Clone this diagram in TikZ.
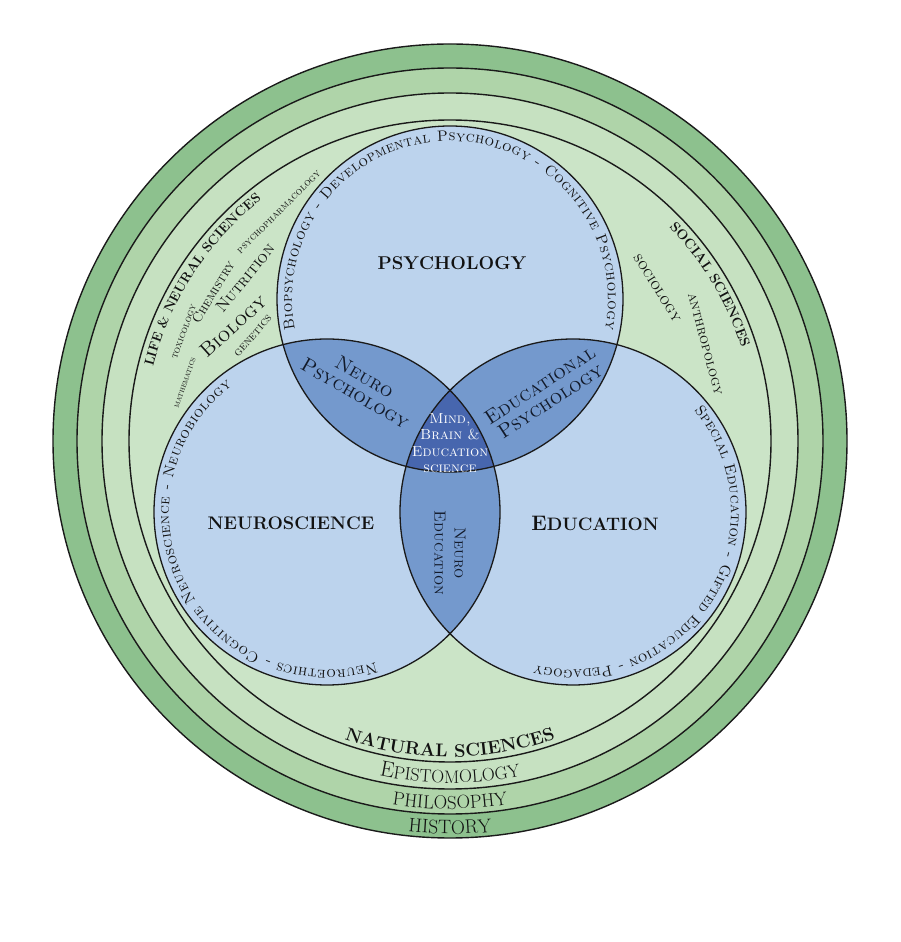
\documentclass[tikz,border=0pt]{standalone}
\usetikzlibrary{decorations.text,calc}
\newcommand\myfs[1]{\fontsize{#1}{#1}\selectfont}
\newcommand\myfsl[2]{\fontsize{#1}{#2}\selectfont}
\definecolor{ringA}{HTML}{8DC18E}
\definecolor{ringB}{HTML}{AFD4A9}
\definecolor{ringC}{HTML}{C6E1C1}
\definecolor{ringD}{HTML}{CBE4C7}
\definecolor{blueL}{HTML}{BCD3ED}
\definecolor{blueM}{HTML}{7499CD}
\definecolor{blueD}{HTML}{4766AE}
\definecolor{lineC}{HTML}{1A1A1A}
\definecolor{txt}{HTML}{121212}
\definecolor{navy}{HTML}{121A2A}
\begin{document}
\begin{tikzpicture}[x=1pt,y=1pt,
  ring/.style={draw=lineC, line width=1.4pt},
  venn/.style={draw=lineC, line width=1.3pt},
  lbl/.style={text=txt, inner sep=0pt, align=center},
  ovl/.style={text=navy, inner sep=0pt, align=center},
  arctext/.style={decorate, decoration={text along path, text color=txt, text align={fit to path}, text={#1}}},
  bandtext/.style={decorate, decoration={text along path, text color=txt, text align=center, text={#1}}}
]
\useasboundingbox (0,0) rectangle (900,942);
\fill[white] (0,0) rectangle (900,942);
\coordinate (O) at (450,501);
\coordinate (P) at (450,643);
\coordinate (N) at (327,430);
\coordinate (E) at (573,430);

% rings
\fill[ringA] (O) circle[radius=397pt];
\fill[ringB] (O) circle[radius=373pt];
\fill[ringC] (O) circle[radius=348pt];
\fill[ringD] (O) circle[radius=321pt];
\draw[ring] (O) circle[radius=397pt];
\draw[ring] (O) circle[radius=373pt];
\draw[ring] (O) circle[radius=348pt];
\draw[ring] (O) circle[radius=321pt];

% venn
\fill[blueL] (P) circle[radius=173pt];
\fill[blueL] (N) circle[radius=173pt];
\fill[blueL] (E) circle[radius=173pt];
\begin{scope}
  \clip (P) circle[radius=173pt];
  \fill[blueM] (N) circle[radius=173pt];
  \fill[blueM] (E) circle[radius=173pt];
\end{scope}
\begin{scope}
  \clip (N) circle[radius=173pt];
  \fill[blueM] (E) circle[radius=173pt];
\end{scope}
\begin{scope}
  \clip (P) circle[radius=173pt];
  \clip (N) circle[radius=173pt];
  \fill[blueD] (E) circle[radius=173pt];
\end{scope}
\draw[venn] (P) circle[radius=173pt];
\draw[venn] (N) circle[radius=173pt];
\draw[venn] (E) circle[radius=173pt];

% arc texts in venn circles
\path[arctext={|\myfs{15}\scshape|Biopsychology - Developmental Psychology - Cognitive Psychology}]
  ($(P)+(191:158)$) arc[start angle=191, end angle=-11, radius=158pt];
\path[arctext={|\myfs{15}\scshape|Neuroethics - Cognitive Neuroscience - Neurobiology}]
  ($(N)+(-72:158)$) arc[start angle=-72, end angle=-233, radius=158pt];
\path[arctext={|\myfs{15}\scshape|Special Education - Gifted Education - Pedagogy}]
  ($(E)+(40:158)$) arc[start angle=40, end angle=-104, radius=158pt];

% ring texts
\path[bandtext={|\myfs{19.5}|HISTORY}]
  ($(O)+(250:393)$) arc[start angle=250, end angle=290, radius=393pt];
\path[bandtext={|\myfs{18.8}|PHILOSOPHY}]
  ($(O)+(245:368)$) arc[start angle=245, end angle=295, radius=368pt];
\path[bandtext={|\myfs{22}|E|\myfs{18}|PISTOMOLOGY}]
  ($(O)+(240:342)$) arc[start angle=240, end angle=300, radius=342pt];
\path[bandtext={|\myfs{18.3}\bfseries|NATURAL SCIENCES}]
  ($(O)+(225:316)$) arc[start angle=225, end angle=315, radius=316pt];
\path[bandtext={|\myfs{13.5}\bfseries|LIFE {\&} NEURAL SCIENCES}]
  ($(O)+(185:306)$) arc[start angle=185, end angle=109, radius=306pt];
\path[bandtext={|\myfs{13.8}\bfseries|SOCIAL SCIENCES}]
  ($(O)+(65:306)$) arc[start angle=65, end angle=-3, radius=306pt];

% small field texts
\node[lbl, font=\myfs{10.5}\scshape, rotate=45] (psph) at (279,730) {psychopharmacology};
\node[lbl, font=\myfs{16.5}\scshape, rotate=51] (nutr) at (245,664) {Nutrition};
\node[lbl, font=\myfs{13.5}\scshape, rotate=59] (chem) at (213,650) {Chemistry};
\node[lbl, font=\myfs{10}\scshape, rotate=70] (toxi) at (184,610) {toxicology};
\node[lbl, font=\myfs{20}\scshape, rotate=42] (biol) at (233,616) {Biology};
\node[lbl, font=\myfs{12}\scshape, rotate=49] (gene) at (253,606) {genetics};
\node[lbl, font=\myfs{8.5}\scshape, rotate=71] (math) at (185,559) {mathematics};
\node[lbl, font=\myfs{15.5}\scshape, rotate=-58] (soci) at (657,654) {sociology};
\node[lbl, font=\myfs{14.5}\scshape, rotate=-75] (anth) at (705,598) {anthropology};

% main labels
\node[lbl, font=\bfseries\myfs{18.5}] (psy) at (452,679) {PSYCHOLOGY};
\node[lbl, font=\bfseries\myfs{18.2}] (neu) at (291,419) {NEUROSCIENCE};
\node[lbl, font=\bfseries] (edu) at (595,419) {{\myfs{21}E}{\myfs{18}DUCATION}};

% overlap labels
\node[ovl, font=\myfsl{20}{19}\scshape, rotate=-30] (np) at (360,557) {Neuro\\Psychology};
\node[ovl, font=\myfsl{20}{19}\scshape, rotate=33] (ep) at (545,549) {Educational\\Psychology};
\node[ovl, font=\myfsl{16}{20}\scshape, rotate=-90] (ne) at (450,389) {Neuro\\Education};
\node[lbl, text=white, font=\myfsl{14.5}{16.5}\scshape] (mbe) at (450,499) {Mind,\\Brain \&\\Education\\science};
\end{tikzpicture}
\end{document}
